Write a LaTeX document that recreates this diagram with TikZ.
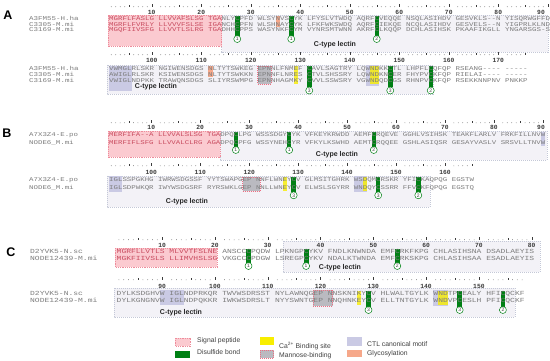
\documentclass[tikz,border=0pt]{standalone}
\usepackage{fontspec}
\setmainfont{Liberation Sans}
\newfontfamily\seqfont{Liberation Mono}[Ligatures=TeXOff]
\usepackage{graphicx}
\usepackage{xcolor}
\usepackage{tikz}
\usetikzlibrary{calc}

\definecolor{seqtxt}{RGB}{125,125,125}
\definecolor{sigtxt}{RGB}{200,75,95}
\definecolor{sigfill}{RGB}{251,202,208}
\definecolor{sigline}{RGB}{238,140,155}
\definecolor{lectfill}{RGB}{243,242,247}
\definecolor{lectline}{RGB}{196,200,215}
\definecolor{ctlfill}{RGB}{202,202,228}
\definecolor{glyfill}{RGB}{246,168,138}
\definecolor{manfill}{RGB}{186,186,192}
\definecolor{manline}{RGB}{238,110,130}
\definecolor{cafill}{RGB}{248,238,0}
\definecolor{ssfill}{RGB}{0,128,20}
\definecolor{rulecol}{RGB}{60,60,60}

\newcommand\setpanel[3]{\def\pxo{#1}\def\pcw{#2}\def\prs{#3}\pgfmathsetmacro\psz{#2/0.6001}}
\newcommand\squish[1]{\scalebox{1}[0.78]{#1}}
\newcommand\hlbox[5]{%
  \pgfmathsetmacro\rxa{\pxo+(#2-\prs+int((#2-\prs)/10))*\pcw}%
  \pgfmathsetmacro\rxb{\pxo+(#3-\prs+int((#3-\prs)/10)+1)*\pcw}%
  \path[#1] (\rxa,#4) rectangle (\rxb,#5)}
\newcommand\ssbond[5]{%
  \pgfmathsetmacro\rxa{\pxo+(#2-\prs+int((#2-\prs)/10))*\pcw}%
  \pgfmathsetmacro\rxb{\rxa+\pcw}%
  \pgfmathsetmacro\rxc{\rxa+0.5*\pcw}%
  \fill[ssbar] (\rxa,#3) rectangle (\rxb,#4-3.4);
  \node[sscirc] (#1) at (\rxc,#4) {#5}}
\newcommand\ruler[5]{%
  \foreach \k in {#2,...,#3}{%
    \pgfmathsetmacro\rxc{\pxo+(\k-\prs+int((\k-\prs)/10)+0.5)*\pcw}%
    \pgfmathsetmacro\rxn{min(\rxc,541)}%
    \pgfmathtruncatemacro\kt{mod(\k,10)}%
    \pgfmathtruncatemacro\kf{mod(\k,5)}%
    \ifnum\kt=0
      \draw[rulertick] (\rxc,#4-1.8) -- (\rxc,#4+1.2);
      \node[rulernum] (#1\k) at (\rxn,#5) {\k};
    \else\ifnum\kf=0
      \draw[rulertick] (\rxc,#4-0.8) -- (\rxc,#4+1.2);
    \else
      \fill[rulerdot] (\rxc,#4+0.8) circle (0.35pt);
    \fi\fi}}
\newcommand\seqrow[3]{\node[seq] (#1) at (\pxo,#2+1.9) {\squish{#3}}}
\newcommand\seqname[4]{\node[seq] (#1) at (#2,#3+1.9) {\squish{#4}}}

\begin{document}
\begin{tikzpicture}[x=1pt,y=-1pt,
  seq/.style={font={\seqfont\fontsize{\psz}{\psz}\selectfont},inner sep=0pt,anchor=base west,text=seqtxt},
  rulertick/.style={draw=rulecol,line width=0.35pt},
  rulerdot/.style={fill=rulecol},
  rulernum/.style={font={\seqfont\bfseries\fontsize{6.3}{6.3}\selectfont},text=rulecol,inner sep=0pt},
  lectin/.style={fill=lectfill,draw=lectline,line width=0.4pt,dash pattern=on 1pt off 1pt},
  signal/.style={fill=sigfill,draw=sigline,line width=0.4pt,dash pattern=on 1.2pt off 1pt},
  ctl/.style={fill=ctlfill},
  glyco/.style={fill=glyfill},
  mannose/.style={fill=manfill,draw=manline,line width=0.5pt,dash pattern=on 1pt off 1pt},
  cabind/.style={fill=cafill,fill opacity=0.8},
  ssbar/.style={fill=ssfill},
  sscirc/.style={circle,draw=ssfill,fill=white,line width=0.5pt,minimum size=7pt,inner sep=0pt,
    font=\fontsize{5}{5}\selectfont,text=black!75},
  domlabel/.style={font=\bfseries\fontsize{7}{7}\selectfont,text=black!85,inner sep=0pt},
  panel/.style={font=\bfseries\fontsize{12.5}{12.5}\selectfont,inner sep=0pt},
  legtext/.style={font=\fontsize{6.8}{6.8}\selectfont,text=black!75,anchor=west,inner sep=0pt}]
\useasboundingbox (0,0) rectangle (550,361);
\fill[white] (0,0) rectangle (550,361);

\node[panel] (pa) at (8,15) {A};
\setpanel{109}{4.5}{1}
\path[lectin] (221.5,15.5) rectangle (548,52);
\path[signal] (108,15.5) rectangle (221.5,46);
\hlbox{glyco}{35}{35}{16}{27.5};
\ssbond{a11}{27}{16}{39}{1};
\ssbond{a12}{38}{16}{39}{1};
\ssbond{a13}{55}{16}{39}{2};
\ruler{a1n}{1}{90}{6}{12}
\seqname{a1m1}{29}{19}{A3FM55-H.ha};
\seqname{a1m2}{29}{24.5}{C3305-M.mi};
\seqname{a1m3}{29}{30}{C3169-M.mi};
\seqrow{a1s1}{19}{\textcolor{sigtxt}{MGRFLFASLG LLVVAFSLSG TGA}NLYCPFD WLSYNVSCYK LFYSLVTWDQ AQRFCVEQQE NSQLASIHDV GESVKLS--N YISQRWGFFD};
\seqrow{a1s2}{24.5}{\textcolor{sigtxt}{MGRFLFVRLY LLVVVFSLSE IGA}NCHCPFN WLSHNAYCYK LFKFWKSWDQ AQRFCIEKQE NCQLASIHDV GESVELS--N YIGPRLKLND};
\seqrow{a1s3}{30}{\textcolor{sigtxt}{MGQFIIVSFG LLVVTLSLRG TGA}DHHCPPS WASYNKFCYM VYNRSMTWNN AKRFCLKQQP DCHLASIHSK PKAAFIKGLL YNGARSGS-S};
\node[domlabel] (a1d) at (335,45) {C-type lectin};

\setpanel{109}{4.5}{91}
\path[lectin] (107,65) rectangle (433,94);
\hlbox{ctl}{91}{95}{66}{91};
\hlbox{glyco}{111}{111}{66}{77.5};
\hlbox{mannose}{121}{123}{66}{84};
\hlbox{ctl}{143}{145}{65}{86};
\hlbox{cabind}{129}{129}{66}{84};
\hlbox{cabind}{144}{145}{66}{84};
\ssbond{a21}{131}{66}{90.5}{3};
\ssbond{a22}{148}{66}{90.5}{3};
\ssbond{a23}{156}{66}{90.5}{2};
\ruler{a2n}{91}{175}{54}{60}
\seqname{a2m1}{29}{69}{A3FM55-H.ha};
\seqname{a2m2}{29}{74.8}{C3305-M.mi};
\seqname{a2m3}{29}{80.5}{C3169-M.mi};
\seqrow{a2s1}{69}{VWMGLRLSKR NGIWENSDGS NLTYTSWKEG EPNNLFNMEF CAVLSAGTRY LQWNDKKCTL LHPFLCQFQP RSEANG---- -----};
\seqrow{a2s2}{74.8}{AWIGLRLSKR KSIWENSDGS NLTYTSWKKN EPNNFLNRES CTVLSHSSRY LQWNDKNCER FHYPVCKFQP RIELAI---- -----};
\seqrow{a2s3}{80.5}{VWIGLNDPKK TRAWQNSDGS SLIYRSWMPG EPNNHAGMKY CVVLSSWSRY VGWNDQDCGS RHNPVCKFQP RSEKKNNPNV PNKKP};
\node[domlabel] (a2d) at (156,87) {C-type lectin};

\node[panel] (pb) at (7,133) {B};
\setpanel{109}{4.45}{1}
\path[lectin] (220.25,131) rectangle (547,160);
\path[signal] (108,131) rectangle (220.25,157);
\hlbox{ctl}{90}{90}{132}{146};
\ssbond{b11}{27}{132}{150}{1};
\ssbond{b12}{38}{132}{150}{1};
\ssbond{b13}{55}{132}{150}{2};
\ruler{b1n}{1}{90}{122}{127}
\seqname{b1m1}{29}{135}{A7X3Z4-E.po};
\seqname{b1m2}{29}{142.3}{NODE6\_M.mi};
\seqrow{b1s1}{135}{\textcolor{sigtxt}{MERFIFA--A LLVVALSLSG TGA}DPQCLPG WSSSDGYCYK VFKEYKRWDD AEMFCRQEVE GGHLVSIHSK TEAKFLARLV FRKFILLNVW};
\seqrow{b1s2}{142.3}{\textcolor{sigtxt}{MERFIFLSFG LLVVALCLRG AGA}DPQCPFG WSSYNEHCYR VFKYLKSWHD AEMTCRQQEE GSHLASIQSR GESAYVASLV SRSVLLTNVW};
\node[domlabel] (b1d) at (337,155) {C-type lectin};

\setpanel{109}{4.45}{91}
\path[lectin] (107,176) rectangle (430,207);
\hlbox{ctl}{91}{93}{176}{192};
\hlbox{mannose}{119}{121}{177}{191};
\hlbox{ctl}{141}{143}{176}{192};
\hlbox{cabind}{127}{127}{177}{191};
\hlbox{cabind}{143}{143}{177}{191};
\ssbond{b21}{129}{177}{195.3}{3};
\ssbond{b22}{146}{177}{195.3}{3};
\ssbond{b23}{154}{177}{195.3}{2};
\ruler{b2n}{91}{165}{165}{172}
\seqname{b2m1}{29}{180}{A7X3Z4-E.po};
\seqname{b2m2}{29}{187.3}{NODE6\_M.mi};
\seqrow{b2s1}{180}{IGLSSPGKHG IWRWSDGSSF YYTSWAPGEP NNFLWNEYCV GLMSITGHRK WSDQMCRSKR YFICKAQPQG EGSTW};
\seqrow{b2s2}{187.3}{IGLSDPWKQR IWYWSDGSRF RYRSWKLGEP NNLLWNEYCV ELWSLSGYRR WNDQYCSSRR FFVCKFQPQG EGSTQ};
\node[domlabel] (b2d) at (187,202) {C-type lectin};

\node[panel] (pc) at (11,252) {C};
\setpanel{116.5}{4.8}{1}
\path[lectin] (283,241) rectangle (540,272);
\path[signal] (115,248) rectangle (217.3,267);
\ssbond{c11}{26}{249}{266}{1};
\ssbond{c12}{37}{249}{266}{1};
\ssbond{c13}{54}{249}{266}{2};
\ruler{c1n}{1}{80}{239}{245}
\seqname{c1m1}{30}{252}{D2YVK5-N.sc};
\seqname{c1m2}{30}{259}{NODE12439-M.mi};
\seqrow{c1s1}{252}{\textcolor{sigtxt}{MGRFLLVTLS MLVVTFSLNE} ANSCCCPQDW LPKNGPCYKV FNDLKNWNDA EMFCRKFKPG CHLASIHSNA DSADLAEYIS};
\seqrow{c1s2}{259}{\textcolor{sigtxt}{MGKFIIVSLS LLIMVHSLSG} VKGCCCPDGW LSREGPCYKV NDALKTWNDA EMFCRKSKPG CHLASIHSAA ESADLAEYIS};
\node[domlabel] (c1d) at (340,268) {C-type lectin};

\setpanel{116.5}{4.8}{81}
\path[lectin] (114,288) rectangle (515,317);
\hlbox{ctl}{90}{93}{290}{305};
\hlbox{mannose}{119}{121}{290}{306};
\hlbox{ctl}{141}{143}{290}{306};
\hlbox{cabind}{127}{127}{291}{305};
\hlbox{cabind}{142}{143}{291}{305};
\ssbond{c21}{129}{291}{310}{3};
\ssbond{c22}{146}{291}{310}{3};
\ssbond{c23}{154}{291}{310}{2};
\ruler{c2n}{81}{158}{279}{286}
\seqname{c2m1}{30}{294}{D2YVK5-N.sc};
\seqname{c2m2}{30}{301}{NODE12439-M.mi};
\seqrow{c2s1}{294}{DYLKSDGHVW IGLNDPRKQR TWVWSDRSST NYLAWNQGEP NNSKNIKYCV HLWALTGYLK WNDTPCEALY HFICQCKF};
\seqrow{c2s2}{301}{DYLKGNGNVW IGLNDPQKKR IWKWSDRSLT NYYSWNTGEP NNQHNKEYCV ELLTNTGYLK WNDVPCESLH PFICQCKF};
\node[domlabel] (c2d) at (181,313) {C-type lectin};

\path[signal] (175,338) rectangle (190,346);
\node[legtext] (l1) at (197,341) {Signal peptide};
\fill[ssfill] (175,351) rectangle (190,357.5);
\node[legtext] (l2) at (197,352.5) {Disulfide bond};
\fill[cafill] (260,337) rectangle (273.5,345);
\node[legtext] (l3) at (279,346) {Ca\textsuperscript{2+} Binding site};
\path[mannose] (260,350) rectangle (273.5,358);
\node[legtext] (l4) at (279,356) {Mannose-binding};
\fill[ctlfill] (347,337) rectangle (362,346);
\node[legtext] (l5) at (367,344) {CTL canonical motif};
\fill[glyfill] (347,350) rectangle (362,357);
\node[legtext] (l6) at (367,354) {Glycosylation};
\end{tikzpicture}
\end{document}
